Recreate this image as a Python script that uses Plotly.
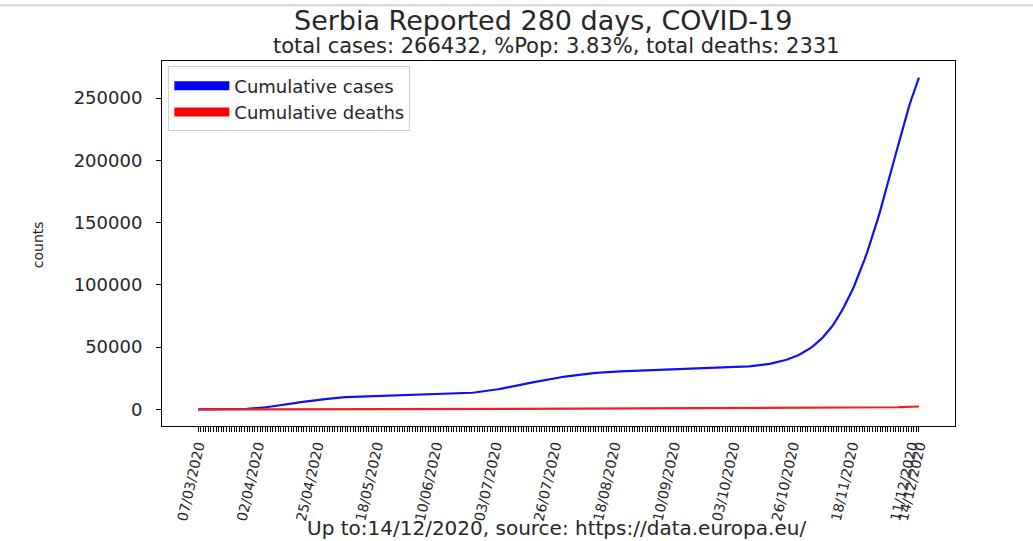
import plotly.graph_objects as go

# Reported cumulative COVID-19 figures for Serbia, one entry per reported day
cases = [
    1, 1, 5, 12, 19, 35, 46, 48, 55, 65,
    83, 103, 135, 171, 222, 249, 303, 350, 384, 457,
    659, 741, 900, 1060, 1171, 1476, 1624, 1908, 2200, 2447,
    2666, 2867, 3105, 3380, 3630, 4054, 4465, 4873, 5318, 5690,
    5994, 6318, 6630, 6890, 7114, 7276, 7483, 7779, 8042, 8275,
    8497, 8724, 9009, 9205, 9362, 9464, 9677, 9791, 9848, 9943,
    10032, 10114, 10176, 10243, 10295, 10374, 10438, 10496, 10610, 10699,
    10733, 10848, 10919, 10985, 11034, 11092, 11159, 11193, 11227, 11275,
    11300, 11354, 11381, 11412, 11430, 11454, 11523, 11571, 11667, 11741,
    11776, 11823, 11896, 11965, 12031, 12102, 12175, 12310, 12426, 12522,
    12616, 12709, 12803, 12894, 13092, 13235, 13372, 13565, 13792, 14046,
    14288, 14564, 14836, 15195, 15504, 15829, 16168, 16520, 16890, 17270,
    17660, 18060, 18470, 18890, 19320, 19760, 20200, 20640, 21080, 21510,
    21940, 22360, 22770, 23170, 23560, 23940, 24310, 24670, 25020, 25360,
    25690, 26010, 26320, 26620, 26910, 27190, 27460, 27720, 27970, 28210,
    28440, 28660, 28870, 29070, 29260, 29440, 29610, 29770, 29920, 30060,
    30190, 30310, 30420, 30520, 30610, 30700, 30780, 30860, 30940, 31010,
    31080, 31150, 31210, 31270, 31330, 31390, 31450, 31510, 31570, 31630,
    31690, 31750, 31810, 31870, 31930, 31990, 32050, 32110, 32170, 32230,
    32290, 32350, 32410, 32470, 32540, 32610, 32680, 32750, 32820, 32890,
    33030, 33110, 33190, 33280, 33370, 33470, 33570, 33680, 33800, 33930,
    34070, 34220, 34380, 34550, 34730, 34920, 35130, 35360, 35610, 35890,
    36200, 36540, 36920, 37340, 37800, 38300, 38850, 39450, 40100, 40800,
    41550, 42350, 43250, 44250, 45350, 46550, 47850, 49250, 50750, 52400,
    54283, 56221, 58362, 60660, 63112, 65736, 68518, 71614, 74977, 78556,
    82377, 86321, 90441, 94808, 99476, 104397, 109564, 114931, 120608, 126505,
    132631, 139026, 145609, 152435, 159435, 166611, 173932, 181498, 189270, 197189,
    204915, 212574, 220900, 228500, 235500, 242100, 248635, 255084, 261115, 266432,
]

deaths = [
    0, 0, 0, 0, 0, 0, 0, 0, 0, 0,
    0, 1, 1, 2, 3, 4, 4, 7, 7, 10,
    13, 16, 16, 28, 31, 39, 44, 51, 58, 65,
    66, 71, 74, 85, 94, 99, 103, 110, 117, 122,
    125, 130, 134, 139, 144, 147, 151, 154, 156, 161,
    168, 173, 179, 183, 187, 189, 193, 200, 209, 215,
    217, 220, 221, 223, 224, 225, 228, 230, 231, 232,
    234, 235, 236, 238, 238, 239, 240, 241, 242, 243,
    244, 244, 245, 245, 245, 245, 246, 246, 246, 247,
    247, 248, 248, 249, 250, 252, 252, 253, 254, 255,
    257, 260, 262, 263, 265, 270, 273, 276, 279, 282,
    285, 287, 291, 298, 301, 311, 315, 319, 321, 325,
    330, 336, 341, 350, 359, 370, 383, 399, 406, 414,
    425, 434, 444, 452, 462, 476, 497, 515, 528, 543,
    554, 566, 578, 586, 596, 605, 614, 625, 632, 640,
    646, 651, 656, 662, 666, 669, 673, 678, 682, 686,
    690, 693, 696, 698, 700, 703, 705, 707, 709, 710,
    712, 714, 716, 718, 719, 721, 723, 724, 726, 727,
    728, 730, 731, 732, 733, 734, 735, 736, 737, 738,
    739, 740, 741, 742, 743, 744, 745, 746, 747, 748,
    749, 750, 751, 752, 754, 756, 758, 760, 762, 764,
    766, 768, 770, 772, 774, 776, 779, 782, 785, 787,
    790, 794, 798, 802, 806, 810, 814, 818, 822, 826,
    830, 836, 842, 849, 856, 863, 870, 877, 884, 892,
    900, 908, 916, 925, 934, 943, 953, 963, 974, 990,
    1010, 1030, 1050, 1072, 1095, 1120, 1146, 1173, 1201, 1230,
    1261, 1293, 1326, 1360, 1395, 1431, 1468, 1506, 1545, 1585,
    1650, 1720, 1790, 1860, 1930, 2000, 2080, 2170, 2250, 2331,
]

# Date labels shown under every 23rd report, plus the final report
tick_labels = [
    "07/03/2020", "02/04/2020", "25/04/2020", "18/05/2020", "10/06/2020",
    "03/07/2020", "26/07/2020", "18/08/2020", "10/09/2020", "03/10/2020",
    "26/10/2020", "18/11/2020", "11/12/2020", "14/12/2020",
]

country = "Serbia"
population_share = "3.83%"
last_date = "14/12/2020"
source = "https://data.europa.eu/"

n = len(cases)
days = list(range(n))
tick_step = 23
tick_vals = list(range(0, n, tick_step)) + [n - 1]

# matplotlib-style 5% data margins
x_pad = 0.05 * (n - 1)
y_lo = min(min(cases), min(deaths))
y_hi = max(max(cases), max(deaths))
y_pad = 0.05 * (y_hi - y_lo)

FONT = "DejaVu Sans, Verdana, sans-serif"
TXT = "#262626"

fig = go.Figure()
fig.add_trace(go.Scatter(x=days, y=cases, mode="lines",
                         line=dict(color="#1010f0", width=2.2),
                         showlegend=False, name="Cumulative cases"))
fig.add_trace(go.Scatter(x=days, y=deaths, mode="lines",
                         line=dict(color="#f02020", width=2.2),
                         showlegend=False, name="Cumulative deaths"))
# legend swatches drawn as thick patches
fig.add_trace(go.Scatter(x=[None], y=[None], mode="lines",
                         line=dict(color="#0000ff", width=9),
                         name="Cumulative cases"))
fig.add_trace(go.Scatter(x=[None], y=[None], mode="lines",
                         line=dict(color="#ff0000", width=9),
                         name="Cumulative deaths"))

fig.update_layout(
    width=1033, height=541,
    margin=dict(l=162, r=78, t=61, b=115),
    paper_bgcolor="white", plot_bgcolor="white",
    font=dict(family=FONT, color=TXT),
    showlegend=True,
    legend=dict(x=0.008, y=0.985, xanchor="left", yanchor="top",
                bgcolor="white", bordercolor="#d0d0d0", borderwidth=1,
                font=dict(size=18, family=FONT, color=TXT),
                itemwidth=55, tracegroupgap=0),
    xaxis=dict(
        range=[-x_pad, n - 1 + x_pad],
        tickmode="array", tickvals=tick_vals, ticktext=tick_labels,
        tickangle=-77, tickfont=dict(size=14, family=FONT, color=TXT),
        ticks="outside", ticklen=5, tickcolor="black", tickwidth=1,
        minor=dict(tickmode="array", tickvals=days, ticks="outside",
                   ticklen=5, tickcolor="black", tickwidth=1.4),
        showline=True, linecolor="black", linewidth=1, mirror=True,
        showgrid=False, zeroline=False,
    ),
    yaxis=dict(
        range=[y_lo - y_pad, y_hi + y_pad],
        tickmode="array", tickvals=[0, 50000, 100000, 150000, 200000, 250000],
        ticktext=["0", "50000", "100000", "150000", "200000", "250000"],
        tickfont=dict(size=18, family=FONT, color=TXT),
        ticks="outside", ticklen=5, tickcolor="black", tickwidth=1,
        ticklabelstandoff=10,
        showline=True, linecolor="black", linewidth=1, mirror=True,
        showgrid=False, zeroline=False,
    ),
)

annotations = [
    dict(text=f"{country} Reported {n} days, COVID-19",
         x=0.4805, y=1.112, font=dict(size=27, family=FONT, color=TXT)),
    dict(text=(f"total cases: {cases[-1]}, %Pop: {population_share}, "
               f"total deaths: {deaths[-1]}"),
         x=0.497, y=1.042, font=dict(size=21, family=FONT, color=TXT)),
    dict(text=f"Up to:{last_date}, source: {source}",
         x=0.497, y=-0.279, font=dict(size=20, family=FONT, color=TXT)),
    dict(text="counts", textangle=-90,
         x=-0.156, y=0.496, font=dict(size=14, family=FONT, color=TXT)),
]
for a in annotations:
    fig.add_annotation(xref="paper", yref="paper", showarrow=False,
                       xanchor="center", yanchor="middle", **a)

# thin separator rule along the top edge of the page
fig.add_shape(type="line", xref="paper", yref="paper",
              x0=-162 / 793, x1=(1033 - 162) / 793, y0=1.153, y1=1.153,
              line=dict(color="#d4d4d4", width=2))

fig.write_html("out.html")
